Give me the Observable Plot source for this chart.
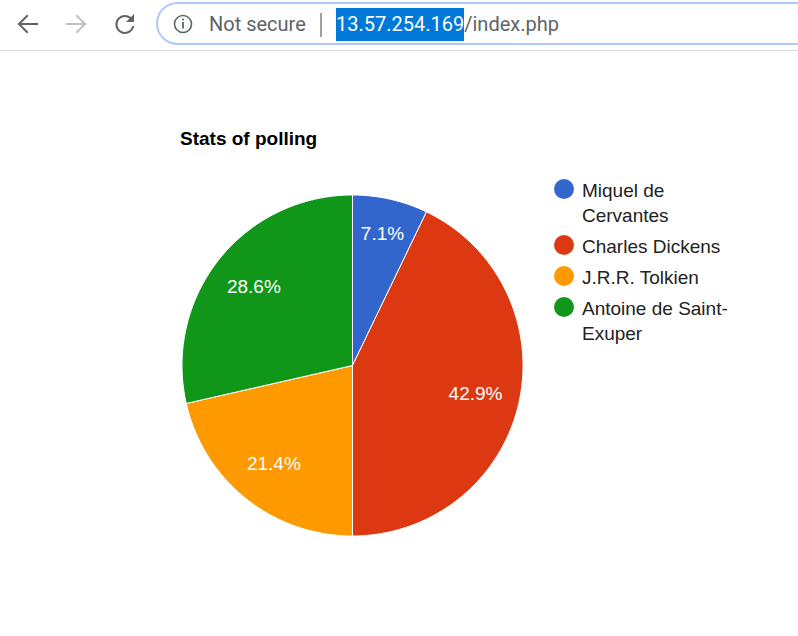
<!DOCTYPE html>
<html>
<head>
<meta charset="utf-8">
<script src="https://cdn.jsdelivr.net/npm/d3@7"></script>
<script src="https://cdn.jsdelivr.net/npm/@observablehq/plot@0.6"></script>
<style>
  html, body { margin: 0; padding: 0; background: #fff; overflow: hidden; }
  body { width: 798px; height: 636px; position: relative; font-family: "Liberation Sans", Arial, sans-serif; }
  #chrome { position: absolute; left: 0; top: 0; width: 798px; height: 50px; border-bottom: 1px solid #dadce0; z-index: 2; background: #fff; }
  #omni { position: absolute; left: 156px; top: 2px; width: 700px; height: 39px; border: 2px solid #aecbfa; border-radius: 22px; }
  .urltxt { position: absolute; top: 8px; height: 33px; line-height: 33px; font-family: Roboto, "Noto Sans", sans-serif; font-size: 20px; color: #5f6368; white-space: nowrap; }
  .sel { display: inline-block; height: 33px; background: #0078d7; color: #fff; }
  #divider { position: absolute; left: 320px; top: 13px; width: 2px; height: 24px; background: #9aa0a6; }
  #title { position: absolute; left: 180px; top: 129px; font-size: 19px; line-height: 19px; font-weight: bold; color: #000; white-space: nowrap; z-index: 2; }
  #legend { position: absolute; left: 554px; top: 178px; z-index: 2; }
  .item { display: flex; align-items: flex-start; margin-bottom: 6px; }
  .sw { width: 20px; height: 20px; border-radius: 50%; margin-top: 1px; margin-right: 8px; flex: none; }
  .lab { width: 160px; font-size: 19px; line-height: 25px; color: #222; }
  #chart svg { position: absolute; left: 0; top: 0; }
</style>
</head>
<body>
<div id="chrome">
  <svg width="150" height="50" style="position:absolute;left:0;top:0">
    <g fill="none" stroke-width="2" stroke-linecap="square">
      <path d="M37 24 H19 M27 16 L19 24 L27 32" stroke="#5f6368"/>
      <path d="M67 24 H85 M77 16 L85 24 L77 32" stroke="#bdc1c6"/>
      <path d="M131.5 19 A8.5 8.5 0 1 0 133 27" stroke="#5f6368"/>
    </g>
    <path d="M134 14 L134 22 L126 22 Z" fill="#5f6368"/>
  </svg>
  <div id="omni"></div>
  <svg width="30" height="50" style="position:absolute;left:168px;top:0">
    <circle cx="15" cy="24" r="8.5" fill="none" stroke="#5f6368" stroke-width="1.6"/>
    <rect x="14.1" y="22" width="1.8" height="6.5" fill="#5f6368"/>
    <rect x="14.1" y="18.6" width="1.8" height="1.8" fill="#5f6368"/>
  </svg>
  <div class="urltxt" style="left:209px">Not secure</div>
  <div id="divider"></div>
  <div class="urltxt" style="left:336px"><span class="sel">13.57.254.169</span>/index.php</div>
</div>
<div id="title"></div>
<div id="legend"></div>
<div id="chart"></div>
<script>
// ---- data ----
const chartTitle = "Stats of polling";
const names = ["Miquel de Cervantes", "Charles Dickens", "J.R.R. Tolkien", "Antoine de Saint-Exuper"];
const votes = [1, 6, 3, 4];
const colors = ["#3366cc", "#dc3912", "#ff9900", "#109618"];

// ---- derived ----
const total = d3.sum(votes);
const arcs = d3.pie().sort(null).value(d => d)(votes);
const slicePts = [];
const labels = [];
arcs.forEach((a, i) => {
  const name = names[i];
  slicePts.push({name, x: 0, y: 0});
  const n = Math.max(2, Math.ceil((a.endAngle - a.startAngle) / (Math.PI / 180)));
  for (let k = 0; k <= n; k++) {
    const t = a.startAngle + (a.endAngle - a.startAngle) * k / n;
    slicePts.push({name, x: Math.sin(t), y: Math.cos(t)});
  }
  slicePts.push({name, x: 0, y: 0});
  const mid = (a.startAngle + a.endAngle) / 2;
  const frac = (a.endAngle - a.startAngle) / (2 * Math.PI);
  const lr = frac < 0.1 ? 0.79 : 0.74;
  labels.push({name, x: lr * Math.sin(mid), y: lr * Math.cos(mid), text: d3.format(".1%")(votes[i] / total)});
});

const cx = 352, cy = 365, r = 170.5;
const plot = Plot.plot({
  width: 798,
  height: 636,
  margin: 0,
  x: {domain: [-1, 1], range: [cx - r, cx + r], axis: null},
  y: {domain: [-1, 1], range: [cy + r, cy - r], axis: null},
  color: {domain: names, range: colors},
  style: {fontFamily: "'Liberation Sans', Arial, sans-serif", background: "transparent"},
  marks: [
    Plot.line(slicePts, {x: "x", y: "y", z: "name", fill: "name", stroke: "white", strokeWidth: 1, curve: "linear", strokeLinejoin: "round"}),
    Plot.text(labels, {x: "x", y: "y", text: "text", fill: "white", fontSize: 19})
  ]
});
document.getElementById("chart").appendChild(plot);

document.getElementById("title").textContent = chartTitle;
const legend = document.getElementById("legend");
names.forEach((nm, i) => {
  const it = document.createElement("div");
  it.className = "item";
  const sw = document.createElement("div");
  sw.className = "sw";
  sw.style.background = colors[i];
  const lb = document.createElement("div");
  lb.className = "lab";
  lb.textContent = nm;
  it.appendChild(sw);
  it.appendChild(lb);
  legend.appendChild(it);
});
</script>
</body>
</html>
